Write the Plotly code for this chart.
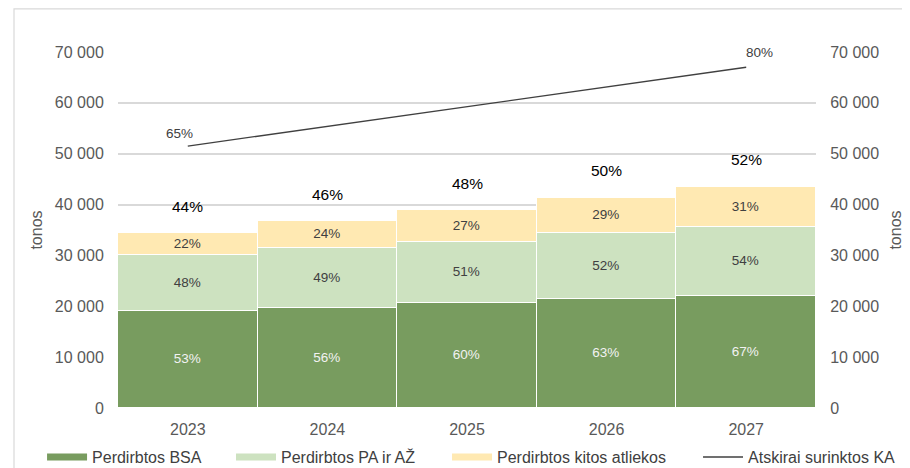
import plotly.graph_objects as go

years = ["2023", "2024", "2025", "2026", "2027"]
bsa = [19000, 19750, 20600, 21400, 22100]
pa_az = [11100, 11700, 12100, 12950, 13550]
kitos = [4300, 5300, 6200, 6950, 7850]
ka_line = [51500, 55400, 59250, 63100, 67000]

bsa_pct = ["53%", "56%", "60%", "63%", "67%"]
pa_pct = ["48%", "49%", "51%", "52%", "54%"]
kitos_pct = ["22%", "24%", "27%", "29%", "31%"]
total_pct = ["44%", "46%", "48%", "50%", "52%"]
line_pct = ["65%", "", "", "", "80%"]

names = ["Perdirbtos BSA", "Perdirbtos PA ir AŽ", "Perdirbtos kitos atliekos", "Atskirai surinktos KA"]
c_dark = "#789c5f"
c_light = "#cde2c0"
c_yellow = "#ffe9b2"
c_line = "#404040"

FONT = "Liberation Sans, Arial, sans-serif"

xpos = list(range(len(years)))  # category slots on the x axis

fig = go.Figure()

for vals, pct, col, tcol in [(bsa, bsa_pct, c_dark, "#f2f2f2"),
                             (pa_az, pa_pct, c_light, "#404040"),
                             (kitos, kitos_pct, c_yellow, "#404040")]:
    fig.add_trace(go.Bar(
        x=xpos, y=vals, text=pct, textposition="inside",
        insidetextanchor="middle", textangle=0,
        textfont=dict(color=tcol, size=13.5, family=FONT),
        marker=dict(color=col, line=dict(color="white", width=1.5)),
        showlegend=False, hoverinfo="skip"))

fig.add_trace(go.Scatter(
    x=xpos, y=ka_line, mode="lines",
    line=dict(color=c_line, width=1.3), showlegend=False, yaxis="y2",
    hoverinfo="skip"))

# end labels of the line
for i, t in enumerate(line_pct):
    if t:
        first = i == 0
        fig.add_annotation(x=xpos[i], y=ka_line[i], yref="y2", text=t, showarrow=False,
                           xshift=-8 if first else 13, yshift=13 if first else 15,
                           font=dict(size=13.5, color="#404040", family=FONT))

# legend entries (one legend box per entry, as in the reference layout)
legend_ids = ["legend", "legend2", "legend3", "legend4"]
for nm, col, w, lg in [(names[0], c_dark, 7, legend_ids[0]), (names[1], c_light, 7, legend_ids[1]),
                       (names[2], c_yellow, 7, legend_ids[2]), (names[3], c_line, 1.5, legend_ids[3])]:
    fig.add_trace(go.Scatter(x=[None], y=[None], mode="lines", name=nm, legend=lg,
                             line=dict(color=col, width=w)))

totals = [a + b + c for a, b, c in zip(bsa, pa_az, kitos)]
for xp, tot, t in zip(xpos, totals, total_pct):
    fig.add_annotation(x=xp, y=tot, text=t, showarrow=False, yshift=27,
                       font=dict(size=15.5, color="#000000", family=FONT))

fig.add_shape(type="rect", xref="paper", yref="paper", x0=-0.149, x1=1.2,
              y0=-0.2, y1=1.121, line=dict(color="#d9d9d9", width=1.2),
              fillcolor="rgba(0,0,0,0)", layer="below")

axis_common = dict(range=[0, 70000], tickvals=[0, 10000, 20000, 30000, 40000, 50000, 60000, 70000],
                   tickformat=",d", tickfont=dict(size=16, color="#595959", family=FONT),
                   ticks="outside", ticklen=10, tickcolor="rgba(0,0,0,0)", zeroline=False)

leg_common = dict(orientation="h", y=-0.09, xanchor="left", yanchor="top",
                  font=dict(size=16, color="#404040", family=FONT), itemwidth=40,
                  bgcolor="rgba(0,0,0,0)")

fig.update_layout(
    width=902, height=460,
    margin=dict(l=110, r=94, t=44, b=60, autoexpand=False),
    paper_bgcolor="white", plot_bgcolor="white",
    separators=". ",
    barmode="stack", bargap=0,
    font=dict(family=FONT, color="#595959"),
    xaxis=dict(range=[-0.5, len(years) - 0.5], tickvals=xpos, ticktext=years,
               tickfont=dict(size=16, color="#595959", family=FONT), showline=False,
               ticks="outside", ticklen=7, tickcolor="rgba(0,0,0,0)", showgrid=False, zeroline=False),
    yaxis=dict(**axis_common, showgrid=True, gridcolor="#d9d9d9", gridwidth=1.5,
               title=dict(text="tonos", font=dict(size=16, color="#595959", family=FONT), standoff=8)),
    yaxis2=dict(**axis_common, overlaying="y", side="right", showgrid=False,
                title=dict(text="tonos", font=dict(size=16, color="#595959", family=FONT), standoff=11)),
    legend=dict(**leg_common, x=-0.1088),
    legend2=dict(**leg_common, x=0.1619),
    legend3=dict(**leg_common, x=0.4714),
    legend4=dict(**leg_common, x=0.8310),
    showlegend=True,
)

fig.write_html("out.html")
